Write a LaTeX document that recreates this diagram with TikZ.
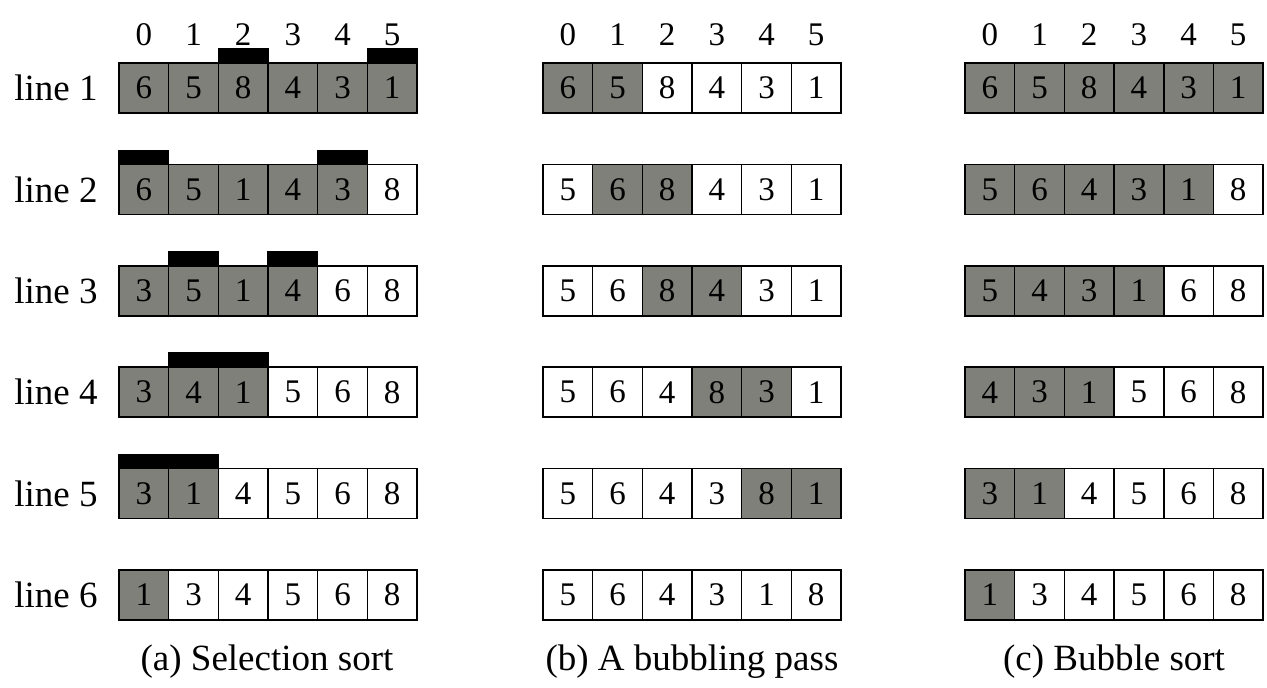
\documentclass[tikz,border=0pt]{standalone}
\usepackage{fontspec}
\setmainfont{Liberation Serif}
\definecolor{cellgray}{RGB}{128,128,122}
\newcommand\cellrow[6]{%
  \foreach \v [count=\k from 0] in {#4} {
    \pgfmathsetmacro\cx{#2+24.83+49.67*\k}
    \pgfmathsetmacro\cy{88+101.4*(#3-1)}
    \ifnum\k<#5 \def\st{plain}\else\ifnum\k>#6 \def\st{plain}\else\def\st{shaded}\fi\fi
    \node[\st] (#1-#3-\k) at (\cx,\cy) {\v};
  }}
\newcommand\headrow[2]{%
  \foreach \k in {0,...,5} {
    \pgfmathsetmacro\cx{#2+24.83+49.67*\k}
    \node[idx] (#1-h\k) at (\cx,35) {\k};
  }}
\begin{document}
\begin{tikzpicture}[x=0.5pt,y=-0.5pt,
  cell/.style={draw=black, line width=0.8pt, minimum width=24.83pt, minimum height=25pt,
    inner sep=0pt, font=\fontsize{16.5}{19}\selectfont},
  shaded/.style={cell, fill=cellgray},
  plain/.style={cell, fill=white},
  idx/.style={font=\fontsize{16.5}{19}\selectfont, inner sep=0pt},
  lbl/.style={font=\fontsize{18.5}{22}\selectfont, inner sep=0pt},
  captext/.style={font=\fontsize{18.5}{22}\selectfont, inner sep=0pt},
  bar/.style={fill=black}]
\fill[white] (0,0) rectangle (1267,688);
\useasboundingbox (0,0) rectangle (1267,688);

% headers
\headrow{a}{119}
\headrow{b}{543}
\headrow{c}{965}

% row labels
\foreach \r in {1,...,6} {
  \pgfmathsetmacro\cy{88+101.4*(\r-1)}
  \node[lbl] (line\r) at (56,\cy) {line \r};
}

% (a) Selection sort
\cellrow{a}{119}{1}{6,5,8,4,3,1}{0}{5}
\cellrow{a}{119}{2}{6,5,1,4,3,8}{0}{4}
\cellrow{a}{119}{3}{3,5,1,4,6,8}{0}{3}
\cellrow{a}{119}{4}{3,4,1,5,6,8}{0}{2}
\cellrow{a}{119}{5}{3,1,4,5,6,8}{0}{1}
\cellrow{a}{119}{6}{1,3,4,5,6,8}{0}{0}

% bars
\fill[bar] ([yshift=7pt]a-1-2.north west) rectangle (a-1-2.north east);
\fill[bar] ([yshift=7pt]a-1-5.north west) rectangle (a-1-5.north east);
\fill[bar] ([yshift=7pt]a-2-0.north west) rectangle (a-2-0.north east);
\fill[bar] ([yshift=7pt]a-2-4.north west) rectangle (a-2-4.north east);
\fill[bar] ([yshift=7pt]a-3-1.north west) rectangle (a-3-1.north east);
\fill[bar] ([yshift=7pt]a-3-3.north west) rectangle (a-3-3.north east);
\fill[bar] ([yshift=7pt]a-4-1.north west) rectangle (a-4-2.north east);
\fill[bar] ([yshift=7pt]a-5-0.north west) rectangle (a-5-1.north east);

% (b) A bubbling pass
\cellrow{b}{543}{1}{6,5,8,4,3,1}{0}{1}
\cellrow{b}{543}{2}{5,6,8,4,3,1}{1}{2}
\cellrow{b}{543}{3}{5,6,8,4,3,1}{2}{3}
\cellrow{b}{543}{4}{5,6,4,8,3,1}{3}{4}
\cellrow{b}{543}{5}{5,6,4,3,8,1}{4}{5}
\cellrow{b}{543}{6}{5,6,4,3,1,8}{9}{-1}

% (c) Bubble sort
\cellrow{c}{965}{1}{6,5,8,4,3,1}{0}{5}
\cellrow{c}{965}{2}{5,6,4,3,1,8}{0}{4}
\cellrow{c}{965}{3}{5,4,3,1,6,8}{0}{3}
\cellrow{c}{965}{4}{4,3,1,5,6,8}{0}{2}
\cellrow{c}{965}{5}{3,1,4,5,6,8}{0}{1}
\cellrow{c}{965}{6}{1,3,4,5,6,8}{0}{0}

% captions
\node[captext] (capa) at (267,662) {(a) Selection sort};
\node[captext] (capb) at (692,662) {(b) A bubbling pass};
\node[captext] (capc) at (1114,662) {(c) Bubble sort};
\end{tikzpicture}
\end{document}
